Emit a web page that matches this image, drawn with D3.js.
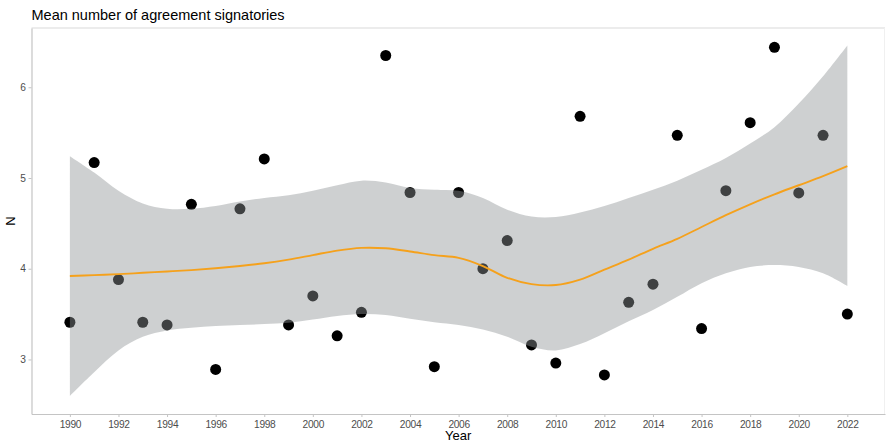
<!DOCTYPE html>
<html>
<head>
<meta charset="utf-8">
<script src="https://cdn.jsdelivr.net/npm/d3@7"></script>
<style>
  html, body { margin: 0; padding: 0; background: #fff; }
  svg { display: block; font-family: "Liberation Sans", Arial, sans-serif; }
</style>
</head>
<body>
<svg id="chart" width="886" height="443"></svg>
<script>
// Years observed
const years = d3.range(1990, 2023);

// Mean number of signatories per year
const meanSignatories = [
  3.41, 5.17, 3.88, 3.41, 3.38, 4.71, 2.89, 4.66, 5.21, 3.38,
  3.70, 3.26, 3.52, 6.35, 4.84, 2.92, 4.84, 4.00, 4.31, 3.16,
  2.96, 5.68, 2.83, 3.63, 3.83, 5.47, 3.34, 4.86, 5.61, 6.44,
  4.835, 5.47, 3.50
];

// Smoothed trend and its confidence band, one value per year
const smoothFit = [
  3.92, 3.93, 3.94, 3.955, 3.97, 3.985, 4.005, 4.03, 4.06, 4.10,
  4.15, 4.20, 4.23, 4.225, 4.19, 4.15, 4.12, 4.03, 3.90, 3.83,
  3.82, 3.88, 3.99, 4.10, 4.22, 4.33, 4.46, 4.59, 4.71, 4.82,
  4.92, 5.02, 5.13
];
const bandUpper = [
  5.24, 5.06, 4.86, 4.72, 4.66, 4.66, 4.69, 4.74, 4.78, 4.81,
  4.86, 4.92, 4.97, 4.95, 4.89, 4.87, 4.86, 4.78, 4.65, 4.575,
  4.57, 4.62, 4.69, 4.78, 4.87, 4.97, 5.09, 5.22, 5.38, 5.56,
  5.82, 6.12, 6.46
];
const bandLower = [
  2.60, 2.86, 3.10, 3.25, 3.32, 3.35, 3.37, 3.38, 3.39, 3.405,
  3.44, 3.48, 3.50, 3.49, 3.45, 3.41, 3.38, 3.33, 3.25, 3.14,
  3.10, 3.17, 3.29, 3.42, 3.545, 3.69, 3.84, 3.95, 4.02, 4.04,
  4.02, 3.95, 3.81
];

const xTicks = d3.range(1990, 2023, 2);
const yTicks = [3, 4, 5, 6];

const svg = d3.select("#chart");
const panel = { left: 31.5, right: 885, top: 28, bottom: 414 };

const x = d3.scaleLinear().domain([1988.42, 2023.55]).range([panel.left, panel.right]);
const y = d3.scaleLinear().domain([2.399, 6.653]).range([panel.bottom, panel.top]);

// Panel frame: faint top and right edges
svg.append("line")
  .attr("x1", panel.left).attr("x2", panel.right).attr("y1", panel.top).attr("y2", panel.top)
  .attr("stroke", "#d9d9d9").attr("stroke-width", 1.2);
svg.append("line")
  .attr("x1", panel.right - 0.5).attr("x2", panel.right - 0.5).attr("y1", panel.top).attr("y2", panel.bottom)
  .attr("stroke", "#f0f0f0").attr("stroke-width", 1);

// Points first, so the band tints the ones it covers
const pts = years.map((yr, i) => ({ year: yr, value: meanSignatories[i] }));
svg.append("g").selectAll("circle").data(pts).join("circle")
  .attr("cx", d => x(d.year))
  .attr("cy", d => y(d.value))
  .attr("r", 5.5)
  .attr("fill", "#000");

const band = years.map((yr, i) => ({ year: yr, lo: bandLower[i], hi: bandUpper[i], fit: smoothFit[i] }));
const smooth = d3.curveCatmullRom.alpha(0.5);

svg.append("path")
  .datum(band)
  .attr("d", d3.area()
    .x(d => x(d.year))
    .y0(d => y(d.lo))
    .y1(d => y(d.hi))
    .curve(smooth))
  .attr("fill", "#8f9496")
  .attr("fill-opacity", 0.44);

svg.append("path")
  .datum(band)
  .attr("d", d3.line()
    .x(d => x(d.year))
    .y(d => y(d.fit))
    .curve(smooth))
  .attr("fill", "none")
  .attr("stroke", "#f5a11c")
  .attr("stroke-width", 1.9);

// Axes
const xAxis = svg.append("g")
  .attr("transform", `translate(0,${panel.bottom})`)
  .call(d3.axisBottom(x).tickValues(xTicks).tickFormat(d3.format("d")).tickSize(3).tickSizeOuter(0));
const yAxis = svg.append("g")
  .attr("transform", `translate(${panel.left},0)`)
  .call(d3.axisLeft(y).tickValues(yTicks).tickFormat(d3.format("d")).tickSize(3).tickSizeOuter(0));

[xAxis, yAxis].forEach(g => {
  g.select(".domain").attr("stroke", "#c4c4c4").attr("stroke-width", 1.2);
  g.selectAll(".tick line").attr("stroke", "#c4c4c4");
  g.selectAll(".tick text")
    .attr("fill", "#4d4d4d")
    .style("font-size", "10.2px")
    .style("letter-spacing", "-0.3px")
    .style("font-family", "'Liberation Sans', Arial, sans-serif");
});
xAxis.selectAll(".tick text").attr("dy", "0.71em").attr("y", 6.5);
yAxis.selectAll(".tick text").attr("x", -6);

// Titles
svg.append("text")
  .attr("x", 31.5).attr("y", 19.5)
  .attr("fill", "#000")
  .style("font-size", "14.5px")
  .text("Mean number of agreement signatories");

svg.append("text")
  .attr("x", (panel.left + panel.right) / 2).attr("y", 440)
  .attr("text-anchor", "middle")
  .attr("fill", "#000")
  .style("font-size", "13px")
  .text("Year");

svg.append("text")
  .attr("transform", `translate(14.5,${(panel.top + panel.bottom) / 2}) rotate(-90)`)
  .attr("text-anchor", "middle")
  .attr("fill", "#000")
  .style("font-size", "13px")
  .text("N");
</script>
</body>
</html>
